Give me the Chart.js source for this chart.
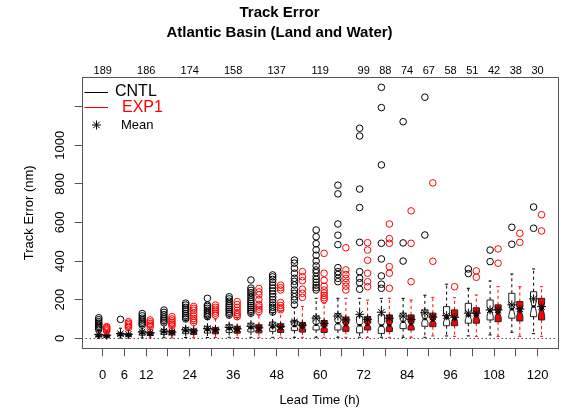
<!DOCTYPE html>
<html>
<head>
<meta charset="utf-8">
<script src="https://cdn.jsdelivr.net/npm/chart.js@4.4.0/dist/chart.umd.min.js"></script>
<style>
	html, body { margin: 0; padding: 0; background: #fff; }
</style>
</head>
<body>
<canvas id="chart" width="563" height="411"></canvas>
<script>
// lead times (h) and number of cases per lead time
var leadTimes = [0, 6, 12, 18, 24, 30, 36, 42, 48, 54, 60, 66, 72, 78, 84, 90, 96, 102, 108, 114, 120]
var caseCounts = [189, 188, 186, 181, 174, 166, 158, 148, 137, 128, 119, 109, 99, 88, 74, 67, 58, 51, 42, 38, 30]
var countLabelLeads = [0, 12, 24, 36, 48, 60, 72, 78, 84, 90, 96, 102, 108, 114, 120]
var xLabelLeads = [0, 6, 12, 24, 36, 48, 60, 72, 84, 96, 108, 120]
var yTicks = [0, 200, 400, 600, 800, 1000, 1200]
var yLabelTicks = [0, 200, 400, 600, 800, 1000]

// CNTL box stats (nm)
var cntlLow = [0, 1, 2, 3, 4, 4, 5, 5, 5, 5, 5, 5, 5, 5, 5, 5, 12, 12, 17, 31, 24]
var cntlQ1 = [7, 12, 16, 20, 24, 27, 30, 33, 36, 40, 43, 43, 28, 25, 50, 62, 65, 78, 95, 104, 112]
var cntlMedian = [13, 18, 26, 32, 38, 43, 48, 53, 57, 63, 70, 78, 68, 66, 85, 100, 105, 118, 140, 150, 165]
var cntlQ3 = [22, 28, 38, 46, 55, 62, 70, 78, 84, 93, 115, 128, 112, 121, 130, 147, 164, 181, 198, 233, 241]
var cntlHigh = [42, 52, 62, 75, 95, 105, 115, 125, 132, 160, 207, 207, 207, 207, 207, 223, 280, 259, 297, 333, 359]
var cntlMean = [20, 24, 33, 37, 44, 50, 56, 62, 68, 85, 104, 115, 124, 135, 115, 132, 117, 130, 147, 173, 204]
var cntlOutliers = [
	[48, 55, 62, 70, 78, 86, 96, 106],
	[98],
	[68, 76, 84, 94, 104, 116, 128],
	[80, 90, 100, 110, 122, 134, 146],
	[100, 108, 118, 128, 140, 150, 160, 172, 182],
	[112, 120, 128, 136, 145, 155, 165, 172, 207],
	[120, 130, 140, 150, 160, 170, 180, 192, 204, 215],
	[130, 140, 150, 160, 170, 180, 190, 200, 212, 224, 236, 248, 260, 302],
	[136, 148, 160, 172, 185, 200, 215, 230, 245, 260, 275, 290, 305, 318, 328],
	[173, 198, 215, 233, 250, 276, 295, 311, 337, 363, 389, 405],
	[250, 262, 275, 290, 305, 320, 340, 354, 375, 400, 430, 458, 490, 526, 561],
	[293, 310, 330, 345, 366, 485, 534, 592, 748, 793],
	[254, 288, 311, 345, 497, 677, 773, 1048, 1088],
	[259, 280, 323, 411, 492, 898, 1195, 1300],
	[400, 494, 1122],
	[535, 1249],
	[],
	[335, 359],
	[397, 457],
	[487, 575],
	[570, 680]
]

// EXP1 box stats (nm)
var exp1Low = [0, 1, 2, 2, 3, 4, 4, 5, 5, 5, 5, 5, 5, 5, 5, 12, 10, 10, 10, 10, 10]
var exp1Q1 = [5, 10, 14, 17, 20, 23, 26, 28, 30, 32, 30, 36, 43, 35, 43, 60, 65, 78, 86, 90, 95]
var exp1Median = [10, 16, 22, 28, 33, 38, 42, 46, 50, 55, 58, 68, 70, 68, 72, 92, 100, 115, 130, 140, 150]
var exp1Q3 = [18, 24, 33, 40, 48, 55, 62, 70, 75, 82, 92, 110, 112, 121, 121, 130, 147, 158, 173, 190, 207]
var exp1High = [35, 48, 55, 60, 78, 100, 108, 120, 140, 165, 181, 207, 198, 207, 198, 212, 210, 224, 267, 267, 267]
var exp1Mean = [16, 21, 28, 32, 38, 44, 49, 54, 60, 68, 78, 95, 98, 104, 98, 110, 109, 130, 147, 152, 164]
var exp1Outliers = [
	[38, 44, 50, 56, 60],
	[55, 62, 70, 78, 86],
	[60, 68, 76, 85, 95],
	[64, 72, 80, 90, 100, 112],
	[82, 92, 102, 115, 130, 145, 155, 165],
	[120, 130, 140, 150, 160, 172],
	[112, 122, 132, 145, 160, 175, 190],
	[138, 150, 162, 175, 200, 225, 240, 258],
	[148, 158, 170, 185, 250, 262, 275],
	[212, 233, 254, 298, 319, 345],
	[200, 210, 222, 235, 250, 270, 300, 337, 440],
	[250, 270, 290, 310, 330, 354, 469],
	[267, 293, 337, 404, 457, 495],
	[259, 337, 371, 492, 516, 592],
	[293, 492, 660],
	[399, 805],
	[267],
	[316, 349],
	[389, 463],
	[497, 544],
	[556, 640]
]

var FONT = 'Liberation Sans, Arial, Helvetica, sans-serif'
var CNTL_SHIFT = -1.1
var EXP1_SHIFT = 1.1
var BOX_HALF = 0.85

Chart.defaults.font.family = FONT
Chart.defaults.color = '#000'

var series = [
	{ low: cntlLow, q1: cntlQ1, med: cntlMedian, q3: cntlQ3, high: cntlHigh, shift: CNTL_SHIFT, fill: '#ffffff', whisker: '#000000' },
	{ low: exp1Low, q1: exp1Q1, med: exp1Median, q3: exp1Q3, high: exp1High, shift: EXP1_SHIFT, fill: '#ff0000', whisker: '#ff0000' }
]

function outlierPoints (lists, shift) {
	var pts = []
	lists.forEach(function (vals, i) {
		vals.forEach(function (v) { pts.push({ x: leadTimes[i] + shift, y: v }) })
	})
	return pts
}

function meanPoints (means, shift) {
	return means.map(function (v, i) { return { x: leadTimes[i] + shift, y: v } })
}

// notched boxes, whiskers, zero line
var boxPlugin = {
	id: 'boxes',
	beforeDatasetsDraw: function (chart) {
		var ctx = chart.ctx, xs = chart.scales.x, ys = chart.scales.y, area = chart.chartArea
		ctx.save()
		ctx.beginPath()
		ctx.rect(area.left, area.top, area.width, area.height)
		ctx.clip()

		// dotted zero line
		var y0 = Math.round(ys.getPixelForValue(0)) + 0.5
		ctx.strokeStyle = '#000'
		ctx.lineWidth = 1
		ctx.setLineDash([1, 3])
		ctx.beginPath()
		ctx.moveTo(area.left, y0)
		ctx.lineTo(area.right, y0)
		ctx.stroke()

		series.forEach(function (s) {
			leadTimes.forEach(function (lead, i) {
				var xc = xs.getPixelForValue(lead + s.shift)
				var hw = xs.getPixelForValue(lead + s.shift + BOX_HALF) - xc
				var iqr = s.q3[i] - s.q1[i]
				var nd = 1.58 * iqr / Math.sqrt(caseCounts[i])
				var yLo = ys.getPixelForValue(s.low[i]), yQ1 = ys.getPixelForValue(s.q1[i])
				var yMed = ys.getPixelForValue(s.med[i]), yQ3 = ys.getPixelForValue(s.q3[i])
				var yHi = ys.getPixelForValue(s.high[i])
				var yNLo = ys.getPixelForValue(s.med[i] - nd), yNHi = ys.getPixelForValue(s.med[i] + nd)

				// whiskers
				ctx.strokeStyle = s.whisker
				ctx.lineWidth = 1
				ctx.setLineDash([3, 3])
				ctx.beginPath()
				ctx.moveTo(xc, yQ3); ctx.lineTo(xc, yHi)
				ctx.moveTo(xc, yQ1); ctx.lineTo(xc, yLo)
				ctx.stroke()
				ctx.setLineDash([])
				ctx.beginPath()
				ctx.moveTo(xc - hw / 2, yHi); ctx.lineTo(xc + hw / 2, yHi)
				ctx.moveTo(xc - hw / 2, yLo); ctx.lineTo(xc + hw / 2, yLo)
				ctx.stroke()

				// notched box
				ctx.beginPath()
				ctx.moveTo(xc - hw, yQ1)
				ctx.lineTo(xc - hw, yNLo)
				ctx.lineTo(xc - hw / 2, yMed)
				ctx.lineTo(xc - hw, yNHi)
				ctx.lineTo(xc - hw, yQ3)
				ctx.lineTo(xc + hw, yQ3)
				ctx.lineTo(xc + hw, yNHi)
				ctx.lineTo(xc + hw / 2, yMed)
				ctx.lineTo(xc + hw, yNLo)
				ctx.lineTo(xc + hw, yQ1)
				ctx.closePath()
				ctx.fillStyle = s.fill
				ctx.fill()
				ctx.strokeStyle = '#222'
				ctx.stroke()

				// median
				ctx.lineWidth = 2.5
				ctx.strokeStyle = '#000'
				ctx.beginPath()
				ctx.moveTo(xc - hw / 2, yMed); ctx.lineTo(xc + hw / 2, yMed)
				ctx.stroke()
			})
		})
		ctx.restore()
	},
	afterDraw: function (chart) {
		var ctx = chart.ctx, ys = chart.scales.y, area = chart.chartArea
		ctx.save()

		// frame
		ctx.strokeStyle = '#555'
		ctx.lineWidth = 1
		ctx.strokeRect(Math.round(area.left) + 0.5, Math.round(area.top) + 0.5, Math.round(area.width), Math.round(area.height))

		// vertical y tick labels
		ctx.fillStyle = '#000'
		ctx.font = '13px ' + FONT
		ctx.textAlign = 'center'
		ctx.textBaseline = 'middle'
		yLabelTicks.forEach(function (v) {
			ctx.save()
			ctx.translate(area.left - 21, ys.getPixelForValue(v))
			ctx.rotate(-Math.PI / 2)
			ctx.fillText(String(v), 0, 0)
			ctx.restore()
		})

		// legend
		ctx.lineWidth = 1
		ctx.strokeStyle = '#000'
		ctx.beginPath(); ctx.moveTo(84.5, 92.5); ctx.lineTo(108, 92.5); ctx.stroke()
		ctx.strokeStyle = '#ff0000'
		ctx.beginPath(); ctx.moveTo(84.5, 107.5); ctx.lineTo(108, 107.5); ctx.stroke()
		ctx.textAlign = 'left'
		ctx.font = '16px ' + FONT
		ctx.fillStyle = '#000'
		ctx.fillText('CNTL', 115, 92)
		ctx.fillStyle = '#ff0000'
		ctx.fillText('EXP1', 122, 108)
		ctx.strokeStyle = '#000'
		Chart.helpers.drawPoint(ctx, { pointStyle: 'star', radius: 4.5, borderWidth: 1, rotation: 0 }, 96.5, 125)
		ctx.font = '13px ' + FONT
		ctx.fillStyle = '#000'
		ctx.fillText('Mean', 121, 125)
		ctx.restore()
	}
}

var ctx = document.getElementById('chart').getContext('2d')

var chart = new Chart(ctx, {
	type: 'scatter',
	data: {
		datasets: [
			{
				label: 'CNTL outliers',
				data: outlierPoints(cntlOutliers, CNTL_SHIFT),
				pointStyle: 'circle',
				radius: 3.3,
				borderWidth: 1,
				borderColor: '#000',
				backgroundColor: 'rgba(0,0,0,0)'
			},
			{
				label: 'EXP1 outliers',
				data: outlierPoints(exp1Outliers, EXP1_SHIFT),
				pointStyle: 'circle',
				radius: 3.3,
				borderWidth: 1,
				borderColor: '#ff0000',
				backgroundColor: 'rgba(0,0,0,0)'
			},
			{
				label: 'CNTL mean',
				data: meanPoints(cntlMean, CNTL_SHIFT),
				pointStyle: 'star',
				radius: 4.5,
				borderWidth: 1,
				borderColor: '#000'
			},
			{
				label: 'EXP1 mean',
				data: meanPoints(exp1Mean, EXP1_SHIFT),
				pointStyle: 'star',
				radius: 4.5,
				borderWidth: 1,
				borderColor: '#000'
			}
		]
	},
	options: {
		responsive: false,
		animation: false,
		devicePixelRatio: 1,
		layout: { padding: { left: 0, right: 4, top: 0, bottom: 0 } },
		plugins: {
			legend: { display: false },
			tooltip: { enabled: false },
			title: {
				display: true,
				text: ['Track Error', 'Atlantic Basin (Land and Water)'],
				color: '#000',
				font: { size: 15, weight: 'bold', lineHeight: 1.3333 },
				padding: { top: 3, bottom: 0 }
			}
		},
		scales: {
			x: {
				type: 'linear',
				position: 'bottom',
				min: -5.8,
				max: 125.5,
				afterBuildTicks: function (scale) {
					scale.ticks = leadTimes.map(function (v) { return { value: v } })
				},
				afterFit: function (scale) { scale.height = 62.7 },
				ticks: {
					autoSkip: false,
					maxRotation: 0,
					padding: 11,
					font: { size: 13 },
					color: '#000',
					callback: function (v) { return xLabelLeads.indexOf(v) >= 0 ? String(v) : '' }
				},
				grid: { drawOnChartArea: false, drawTicks: true, tickLength: 8, color: '#555' },
				border: { display: false },
				title: {
					display: true,
					text: 'Lead Time (h)',
					color: '#000',
					font: { size: 13 },
					padding: { top: 0, bottom: 3 }
				}
			},
			xTop: {
				type: 'linear',
				axis: 'x',
				position: 'top',
				min: -5.8,
				max: 125.5,
				afterBuildTicks: function (scale) {
					scale.ticks = leadTimes.map(function (v) { return { value: v } })
				},
				afterFit: function (scale) { scale.height = 34.3 },
				ticks: {
					autoSkip: false,
					maxRotation: 0,
					padding: 0,
					font: { size: 11 },
					color: '#000',
					callback: function (v) {
						var i = leadTimes.indexOf(v)
						return countLabelLeads.indexOf(v) >= 0 ? String(caseCounts[i]) : ''
					}
				},
				grid: { display: false, drawTicks: false },
				border: { display: false }
			},
			y: {
				type: 'linear',
				min: -52,
				max: 1352,
				afterBuildTicks: function (scale) {
					scale.ticks = yTicks.map(function (v) { return { value: v } })
				},
				afterFit: function (scale) { scale.width = 81.7 },
				ticks: { display: false },
				grid: { drawOnChartArea: false, drawTicks: true, tickLength: 7, color: '#555' },
				border: { display: false },
				title: {
					display: true,
					text: 'Track Error (nm)',
					color: '#000',
					font: { size: 13 },
					padding: { top: 22, bottom: 0 }
				}
			}
		}
	},
	plugins: [boxPlugin]
})
</script>
</body>
</html>
